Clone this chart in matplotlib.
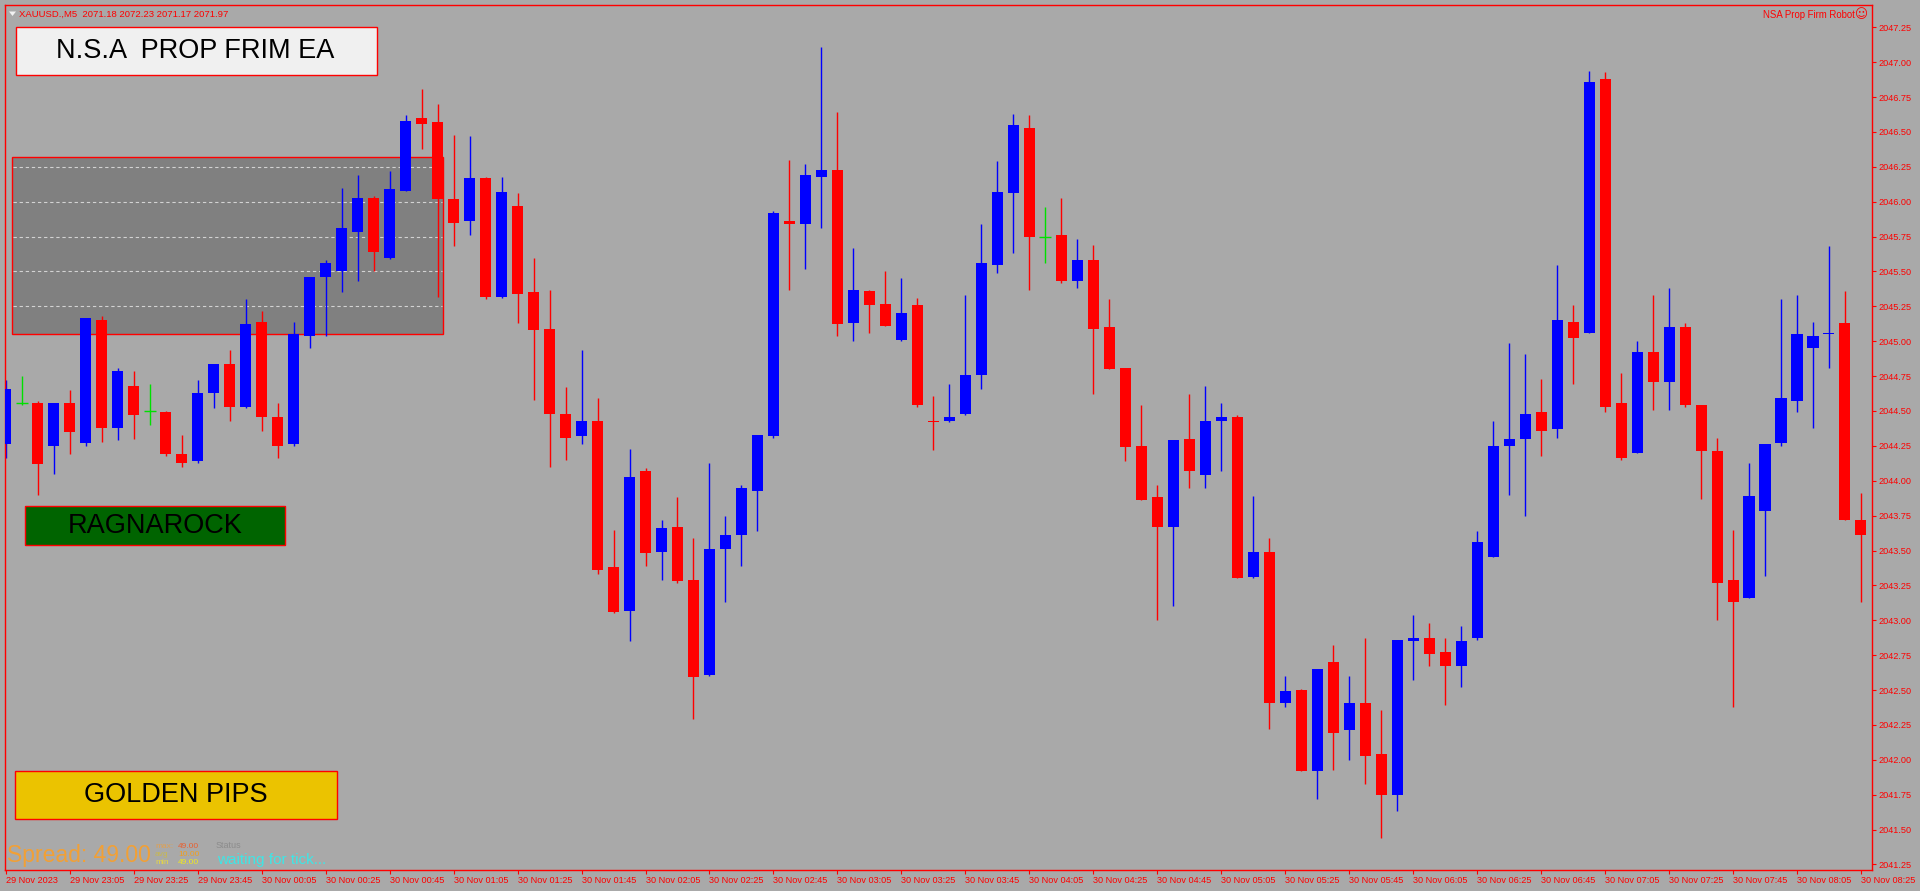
import numpy as np
import matplotlib
matplotlib.use('Agg')
import matplotlib.pyplot as plt
from matplotlib.patches import Rectangle, Polygon

# XAUUSD M5 bars, 29 Nov 22:45 .. 30 Nov 08:25
opens = [2044.26, 2044.56, 2044.56, 2044.25, 2044.56, 2044.27, 2045.15, 2044.38, 2044.68, 2044.50,
         2044.49, 2044.19, 2044.14, 2044.63, 2044.84, 2044.53, 2045.14, 2044.46, 2044.26, 2045.04,
         2045.46, 2045.50, 2045.78, 2046.03, 2045.60, 2046.08, 2046.60, 2046.57, 2046.02, 2045.86,
         2046.17, 2045.32, 2045.97, 2045.35, 2045.09, 2044.48, 2044.32, 2044.43, 2043.38, 2043.07,
         2044.07, 2043.49, 2043.67, 2043.29, 2042.61, 2043.51, 2043.61, 2043.93, 2044.32, 2045.86,
         2045.84, 2046.18, 2046.23, 2045.13, 2045.36, 2045.27, 2045.01, 2045.26, 2044.43, 2044.43,
         2044.48, 2044.76, 2045.55, 2046.06, 2046.53, 2045.75, 2045.76, 2045.43, 2045.58, 2045.10,
         2044.81, 2044.25, 2043.88, 2043.67, 2044.30, 2044.04, 2044.43, 2044.46, 2043.31, 2043.49,
         2042.41, 2042.50, 2041.92, 2042.70, 2042.21, 2042.41, 2042.04, 2041.75, 2042.85, 2042.87,
         2042.77, 2042.67, 2042.87, 2043.45, 2044.25, 2044.30, 2044.49, 2044.37, 2045.14, 2045.06,
         2046.88, 2044.56, 2044.20, 2044.92, 2044.71, 2045.10, 2044.54, 2044.21, 2043.29, 2043.16,
         2043.78, 2044.27, 2044.57, 2044.95, 2045.05, 2045.13, 2043.72]
highs = [2044.72, 2044.75, 2044.57, 2044.56, 2044.65, 2045.17, 2045.18, 2044.81, 2044.79, 2044.69,
         2044.50, 2044.33, 2044.72, 2044.84, 2044.94, 2045.30, 2045.22, 2044.56, 2045.14, 2045.46,
         2045.58, 2046.10, 2046.19, 2046.04, 2046.22, 2046.62, 2046.81, 2046.70, 2046.48, 2046.47,
         2046.18, 2046.18, 2046.06, 2045.60, 2045.37, 2044.67, 2044.94, 2044.59, 2043.65, 2044.23,
         2044.09, 2043.72, 2043.88, 2043.59, 2044.13, 2043.75, 2043.97, 2044.33, 2045.93, 2046.30,
         2046.27, 2047.11, 2046.64, 2045.67, 2045.37, 2045.50, 2045.45, 2045.31, 2044.61, 2044.69,
         2045.33, 2045.84, 2046.29, 2046.63, 2046.62, 2045.96, 2046.03, 2045.73, 2045.69, 2045.30,
         2044.81, 2044.54, 2043.97, 2044.29, 2044.62, 2044.68, 2044.56, 2044.47, 2043.89, 2043.59,
         2042.60, 2042.51, 2042.65, 2042.82, 2042.60, 2042.87, 2042.36, 2042.86, 2043.04, 2042.98,
         2042.87, 2042.96, 2043.64, 2044.43, 2044.99, 2044.91, 2044.73, 2045.55, 2045.26, 2046.94,
         2046.93, 2044.77, 2045.00, 2045.33, 2045.38, 2045.13, 2044.54, 2044.31, 2043.65, 2044.13,
         2044.26, 2045.30, 2045.33, 2045.14, 2045.68, 2045.36, 2043.91]
lows = [2044.16, 2044.54, 2043.90, 2044.05, 2044.19, 2044.25, 2044.28, 2044.29, 2044.30, 2044.40,
        2044.18, 2044.10, 2044.13, 2044.52, 2044.43, 2044.52, 2044.36, 2044.16, 2044.25, 2044.95,
        2045.04, 2045.35, 2045.43, 2045.50, 2045.59, 2046.08, 2046.38, 2045.32, 2045.68, 2045.76,
        2045.30, 2045.31, 2045.13, 2044.58, 2044.10, 2044.15, 2044.26, 2043.33, 2043.05, 2042.85,
        2043.39, 2043.29, 2043.27, 2042.29, 2042.60, 2043.13, 2043.39, 2043.64, 2044.31, 2045.37,
        2045.52, 2045.81, 2045.04, 2045.00, 2045.06, 2045.11, 2045.00, 2044.53, 2044.22, 2044.42,
        2044.47, 2044.66, 2045.49, 2045.63, 2045.37, 2045.56, 2045.42, 2045.38, 2044.62, 2044.80,
        2044.14, 2043.86, 2043.00, 2043.10, 2043.95, 2043.95, 2044.07, 2043.30, 2043.30, 2042.22,
        2042.38, 2041.92, 2041.72, 2041.93, 2042.00, 2041.83, 2041.44, 2041.63, 2042.57, 2042.67,
        2042.39, 2042.52, 2042.86, 2043.45, 2043.90, 2043.75, 2044.18, 2044.31, 2044.69, 2045.06,
        2044.49, 2044.15, 2044.20, 2044.51, 2044.51, 2044.53, 2043.87, 2043.00, 2042.38, 2043.16,
        2043.32, 2044.25, 2044.49, 2044.38, 2044.81, 2043.72, 2043.13]
closes = [2044.66, 2044.56, 2044.12, 2044.56, 2044.35, 2045.17, 2044.38, 2044.79, 2044.47, 2044.50,
          2044.19, 2044.13, 2044.63, 2044.84, 2044.53, 2045.12, 2044.46, 2044.25, 2045.05, 2045.46,
          2045.56, 2045.81, 2046.03, 2045.64, 2046.09, 2046.58, 2046.56, 2046.02, 2045.85, 2046.17,
          2045.32, 2046.07, 2045.34, 2045.08, 2044.48, 2044.31, 2044.43, 2043.36, 2043.06, 2044.03,
          2043.48, 2043.66, 2043.28, 2042.59, 2043.51, 2043.61, 2043.95, 2044.33, 2045.92, 2045.84,
          2046.19, 2046.23, 2045.12, 2045.37, 2045.26, 2045.11, 2045.20, 2044.54, 2044.42, 2044.46,
          2044.76, 2045.56, 2046.07, 2046.55, 2045.75, 2045.75, 2045.43, 2045.58, 2045.09, 2044.80,
          2044.24, 2043.86, 2043.67, 2044.29, 2044.07, 2044.43, 2044.46, 2043.30, 2043.49, 2042.41,
          2042.49, 2041.92, 2042.65, 2042.19, 2042.41, 2042.03, 2041.75, 2042.86, 2042.87, 2042.76,
          2042.67, 2042.85, 2043.56, 2044.25, 2044.30, 2044.48, 2044.36, 2045.15, 2045.02, 2046.86,
          2044.53, 2044.16, 2044.92, 2044.71, 2045.10, 2044.54, 2044.21, 2043.27, 2043.13, 2043.89,
          2044.26, 2044.59, 2045.05, 2045.04, 2045.06, 2043.72, 2043.61]

time_labels = ["29 Nov 2023", "29 Nov 23:05", "29 Nov 23:25", "29 Nov 23:45",
               "30 Nov 00:05", "30 Nov 00:25", "30 Nov 00:45", "30 Nov 01:05", "30 Nov 01:25",
               "30 Nov 01:45", "30 Nov 02:05", "30 Nov 02:25", "30 Nov 02:45", "30 Nov 03:05",
               "30 Nov 03:25", "30 Nov 03:45", "30 Nov 04:05", "30 Nov 04:25", "30 Nov 04:45",
               "30 Nov 05:05", "30 Nov 05:25", "30 Nov 05:45", "30 Nov 06:05", "30 Nov 06:25",
               "30 Nov 06:45", "30 Nov 07:05", "30 Nov 07:25", "30 Nov 07:45", "30 Nov 08:05",
               "30 Nov 08:25"]
bars_per_label = 4

# supply/demand zone drawn by the EA
zone_first_bar, zone_last_bar = 0.36, 27.36
zone_low, zone_high = 2045.05, 2046.32
zone_levels = [2045.25, 2045.50, 2045.75, 2046.00, 2046.25]

header = "XAUUSD.,M5  2071.18 2072.23 2071.17 2071.97"

BG = '#A9A9A9'
RED = '#FF0000'
BLUE = '#0000FF'
DOJI = '#00E000'

plt.rcParams['font.family'] = ['Liberation Sans', 'DejaVu Sans']

W, H = 1920, 891


def fxy(x, y):
    # screen pixels (top-left origin) -> figure fraction
    return x / W, 1 - y / H


fig = plt.figure(figsize=(W / 100, H / 100), dpi=100, facecolor=BG)
ax = fig.add_axes([5 / W, 1 - 870 / H, 1867 / W, 865 / H])
ax.set_facecolor(BG)

o = np.array(opens)
h = np.array(highs)
l = np.array(lows)
c = np.array(closes)
x = np.arange(len(o))

colors = np.where(c > o, BLUE, np.where(c < o, RED, DOJI))

# zone behind the candles
ax.add_patch(Rectangle((zone_first_bar, zone_low), zone_last_bar - zone_first_bar, zone_high - zone_low,
                       facecolor='#808080', edgecolor=RED, linewidth=1.0, zorder=1))
ax.hlines(zone_levels, zone_first_bar + 0.1, zone_last_bar - 0.1, colors='#D2D2D2',
          linewidth=0.8, linestyles=(0, (3, 2.5)), zorder=1.5)

# candles
ax.vlines(x, l, h, colors=colors, linewidth=1.0, zorder=2)
body = c != o
ax.bar(x[body], np.abs(c - o)[body], bottom=np.minimum(o, c)[body], width=0.69,
       color=colors[body], linewidth=0, zorder=3)
ax.hlines(o[~body], x[~body] - 0.38, x[~body] + 0.38, colors=DOJI, linewidth=1.0, zorder=3)

ax.set_xlim(-0.05, 116.69)
ax.set_ylim(2041.21, 2047.41)

for s in ax.spines.values():
    s.set_color(RED)
    s.set_linewidth(1.0)

ax.yaxis.tick_right()
ax.set_yticks(np.arange(2041.25, 2047.26, 0.25))
ax.yaxis.set_major_formatter(matplotlib.ticker.FormatStrFormatter('%.2f'))
ax.tick_params(axis='y', colors=RED, length=3, width=0.8, pad=2, labelsize=6.6)

ax.set_xticks(x[::bars_per_label])
ax.set_xticklabels(time_labels)
ax.tick_params(axis='x', colors=RED, length=3, width=0.8, pad=1.5, labelsize=6.6)
for t in ax.get_xticklabels():
    t.set_ha('left')

# chart header / EA name
fig.add_artist(Polygon([fxy(9, 11.5), fxy(16, 11.5), fxy(12.5, 16)], closed=True,
                       facecolor='#F2F2F2', edgecolor='none', transform=fig.transFigure))
fig.text(*fxy(19, 14), header, color=RED, fontsize=6.8, ha='left', va='center')
fig.text(*fxy(1855, 15), "NSA Prop Firm Robot", color=RED, fontsize=6.9, ha='right', va='center')
fig.text(*fxy(1861.5, 15), "\u263A", color=RED, fontsize=9, ha='center', va='center',
         family='DejaVu Sans')


def label_box(x0, y0, w, h, face, text, tx, ty):
    fig.add_artist(Rectangle(fxy(x0, y0 + h), w / W, h / H, facecolor=face, edgecolor=RED,
                             linewidth=1.0, transform=fig.transFigure))
    fig.text(*fxy(tx, ty), text, color='black', fontsize=19.5, ha='center', va='center')


label_box(15.7, 26.7, 361, 48.3, '#F0F0F0', "N.S.A  PROP FRIM EA", 195, 51.5)
label_box(25.3, 506.4, 259.2, 38.6, '#006400', "RAGNAROCK", 155, 526)
label_box(15.1, 770.6, 321.6, 48.7, '#EBC300', "GOLDEN PIPS", 176, 795.5)

# spread panel
fig.text(*fxy(7, 862), "Spread: 49.00", color='#F2A035', fontsize=16.5, ha='left', va='baseline')
small = [("max:", '#E0A050', "49.00", '#E86030', 846.5),
         ("avg", '#C8B850', "10.00", '#F0A020', 854.5),
         ("min", '#E8D840', "49.00", '#F0E820', 862.5)]
for name, nc, val, vc, yy in small:
    fig.text(*fxy(155, yy), name, color=nc, fontsize=6, ha='left', va='center')
    fig.text(*fxy(178, yy), val, color=vc, fontsize=6, ha='left', va='center')
fig.text(*fxy(216, 846), "Status", color='#8C8C8C', fontsize=6.5, ha='left', va='center')
fig.text(*fxy(217, 860), "waiting for tick...", color='#3EE6E6', fontsize=11, ha='left', va='center')

fig.savefig('out.png', dpi=100, facecolor=BG)
